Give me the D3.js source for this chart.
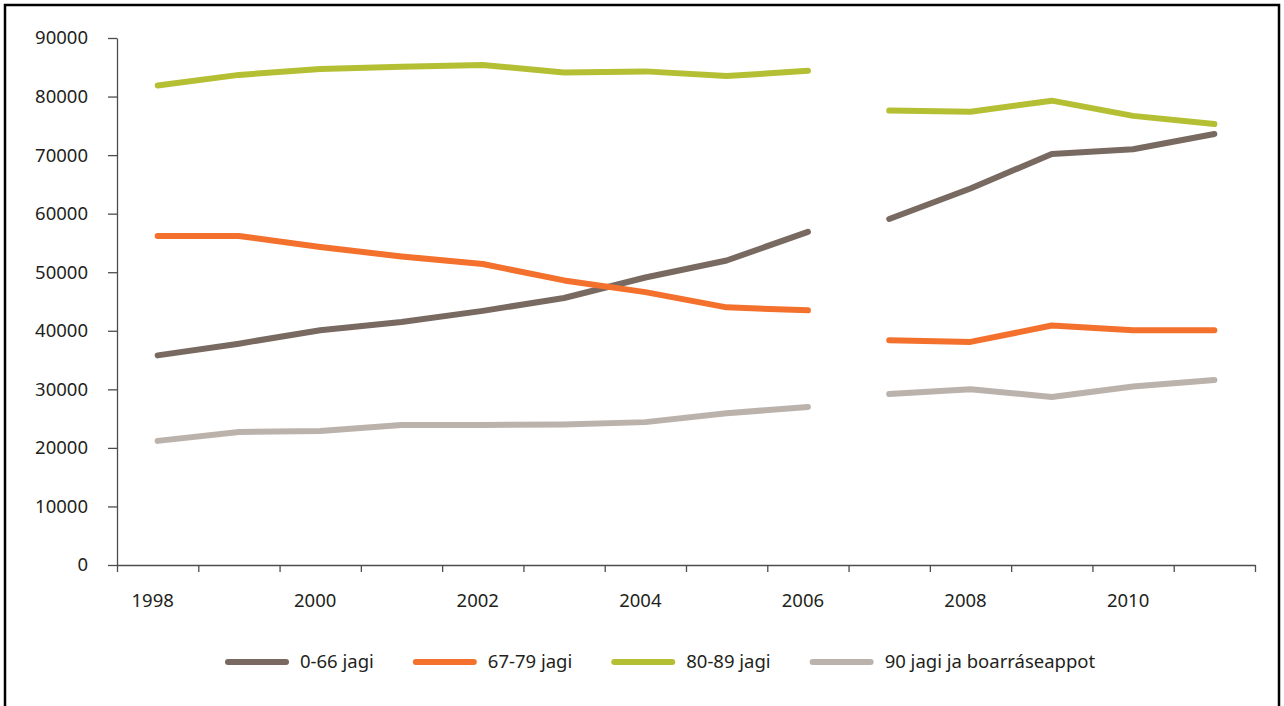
<!DOCTYPE html>
<html lang="se">
<head>
<meta charset="utf-8">
<title>Line Chart</title>
<script src="https://d3js.org/d3.v7.min.js"></script>
<style>
    *{
        margin: 0px;
        padding: 0px;
    }
    body{
        background-color: #ffffff;
        font-family: 'Noto Sans', 'Open Sans', sans-serif;
    }
    .axis text{
        font-size: 18.5px;
        fill: #231f20;
        font-family: 'Noto Sans', 'Open Sans', sans-serif;
    }
    .axis path, .axis line{
        stroke: #4d4d4d;
        stroke-width: 1.3;
    }
</style>
</head>
<body>
<div id="chart"></div>
<script>
    // data
    var years=['1998','1999','2000','2001','2002','2003','2004','2005','2006','2007','2008','2009','2010','2011'];
    var labelYears=['1998','2000','2002','2004','2006','2008','2010'];
    var breakAfter='2006';
    var yTicks=[0,10000,20000,30000,40000,50000,60000,70000,80000,90000];

    var seriesNames=['0-66 jagi','67-79 jagi','80-89 jagi','90 jagi ja boarráseappot'];
    var age0_66=[35800,37800,40100,41500,43400,45600,49100,52000,56900,59100,64300,70200,71000,73600];
    var age67_79=[56200,56200,54300,52700,51400,48600,46600,44000,43500,38400,38100,40900,40100,40100];
    var age80_89=[81900,83700,84700,85100,85400,84100,84300,83500,84400,77600,77400,79300,76700,75300];
    var age90=[21200,22700,22900,23900,23900,24000,24400,25900,27000,29200,30000,28700,30500,31600];
    var colors=['#786961','#f3712d','#b5bf34','#bbb2ac'];

    var allSeries=[age0_66,age67_79,age80_89,age90];

    var width=1284;
    var height=706;
    var plotLeft=117, plotRight=1255, plotTop=38, plotBottom=565;

    var svg=d3.select('#chart')
        .append('svg')
        .attr('width',width)
        .attr('height',height);

    // frame
    svg.append('rect')
        .attr('x',5)
        .attr('y',5)
        .attr('width',1274)
        .attr('height',730)
        .attr('fill','none')
        .attr('stroke','#000')
        .attr('stroke-width',2.5);

    // scales
    var x=d3.scaleBand()
        .domain(years)
        .range([plotLeft,plotRight]);
    var xEdge=d3.scaleLinear()
        .domain([0,years.length])
        .range([plotLeft,plotRight]);
    var y=d3.scaleLinear()
        .domain([0,90000])
        .range([plotBottom,plotTop]);

    // eje y
    svg.append('g')
        .attr('class','axis')
        .attr('transform','translate('+plotLeft+',0)')
        .call(d3.axisLeft(y).tickValues(yTicks).tickSize(9).tickSizeOuter(0).tickPadding(20).tickFormat(d3.format('d')));

    // eje x: marks between years
    svg.append('g')
        .attr('class','axis')
        .attr('transform','translate(0,'+plotBottom+')')
        .call(d3.axisBottom(xEdge).tickValues(d3.range(years.length+1)).tickSize(7).tickSizeOuter(0).tickFormat(''));

    // eje x: labels
    var xLabels=svg.append('g')
        .attr('class','axis')
        .attr('transform','translate(-5,'+plotBottom+')')
        .call(d3.axisBottom(x).tickValues(labelYears).tickSize(0).tickPadding(29));
    xLabels.select('.domain').remove();

    // lines
    var line=d3.line()
        .x(function(d){ return x(d.year)+x.bandwidth()/2; })
        .y(function(d){ return y(d.value); });

    var cut=years.indexOf(breakAfter)+1;

    allSeries.forEach(function(values,s){
        var pts=years.map(function(yr,i){ return {year:yr,value:values[i]}; });
        [pts.slice(0,cut),pts.slice(cut)].forEach(function(seg){
            svg.append('path')
                .datum(seg)
                .attr('d',line)
                .attr('fill','none')
                .attr('stroke',colors[s])
                .attr('stroke-width',6)
                .attr('stroke-linecap','round')
                .attr('stroke-linejoin','round');
        });
    });

    // legend
    var lx=228, ly=662;
    seriesNames.forEach(function(name,i){
        svg.append('line')
            .attr('x1',lx)
            .attr('x2',lx+58)
            .attr('y1',ly)
            .attr('y2',ly)
            .attr('stroke',colors[i])
            .attr('stroke-width',6)
            .attr('stroke-linecap','round');
        var t=svg.append('text')
            .attr('x',lx+72)
            .attr('y',ly)
            .attr('dy','0.35em')
            .style('font-size','18.5px')
            .style('fill','#231f20')
            .text(name);
        lx=lx+72+t.node().getComputedTextLength()+42;
    });
</script>
</body>
</html>
